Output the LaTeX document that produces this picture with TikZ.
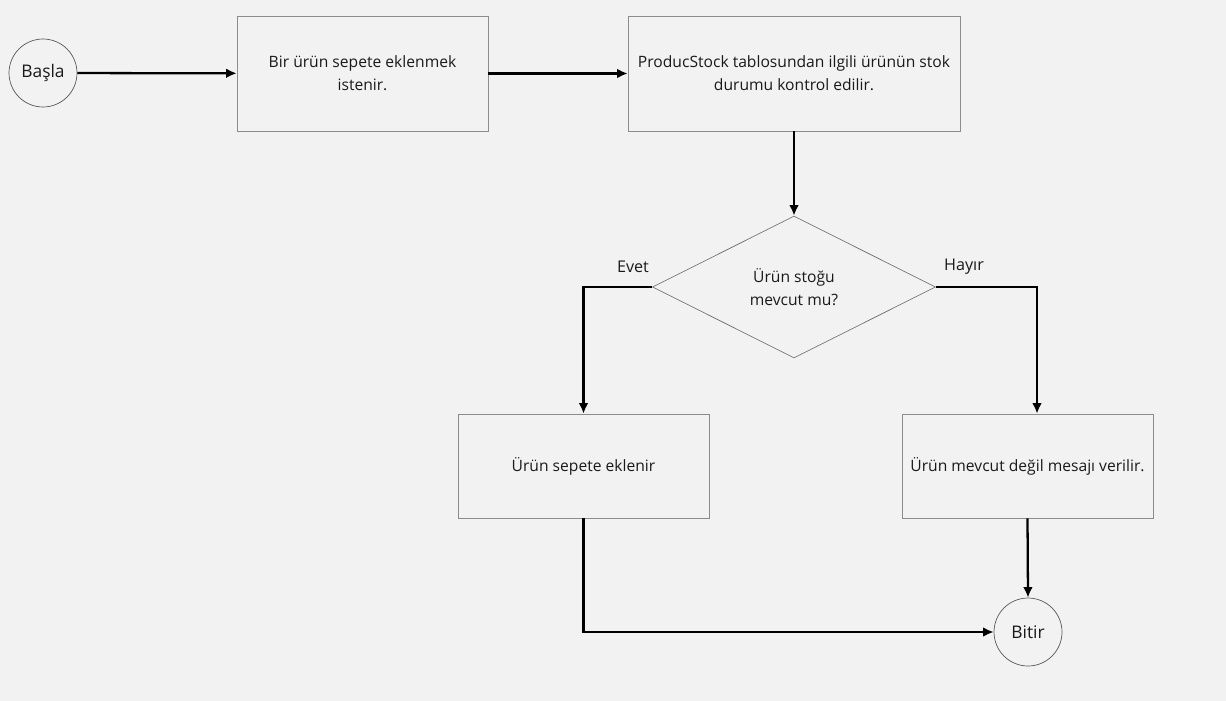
\documentclass[tikz,border=0pt]{standalone}
\usepackage{fontspec}
\setmainfont{Open Sans}
\usetikzlibrary{shapes.geometric,arrows.meta}
\definecolor{zemin}{HTML}{F2F2F2}
\definecolor{kenar}{HTML}{8C8C8C}
\definecolor{yazi}{HTML}{1A1A1A}

\begin{document}
\begin{tikzpicture}[x=0.02cm, y=-0.02cm,
  kutu/.style={draw=kenar, fill=zemin, align=center, inner sep=2pt,
    font=\fontsize{8.9}{13}\selectfont, text=yazi},
  daire/.style={circle, draw=black!65, fill=zemin, minimum size=1.36cm,
    inner sep=0pt, font=\fontsize{9.9}{11}\selectfont, text=yazi},
  karar/.style={diamond, draw=black!55, fill=zemin, minimum width=5.66cm,
    minimum height=2.84cm, inner sep=0pt, align=center,
    font=\fontsize{8.9}{13}\selectfont, text=yazi},
  etiket/.style={font=\fontsize{9.2}{10}\selectfont, text=yazi},
  ok/.style={black, line width=1.3pt, -{Latex[length=6pt,width=5.5pt]}}]

\useasboundingbox (0, 0) rectangle (1226, 700);
\fill [zemin] (-2, -2) rectangle (1228, 702);

\node [daire] (basla) at (43, 73) {Başla};
\node [kutu, minimum width=5.02cm, minimum height=2.3cm] (istek) at (362.5, 73.5)
  {Bir ürün sepete eklenmek\\istenir.};
\node [kutu, minimum width=6.64cm, minimum height=2.3cm] (kontrol) at (794, 73.5)
  {ProducStock tablosundan ilgili ürünün stok\\durumu kontrol edilir.};
\node [karar] (stok) at (794, 287) {Ürün stoğu\\mevcut mu?};
\node [kutu, minimum width=5.02cm, minimum height=2.08cm] (ekle) at (583.5, 466)
  {Ürün sepete eklenir};
\node [kutu, minimum width=5.02cm, minimum height=2.08cm] (mesaj) at (1027.5, 466)
  {Ürün mevcut değil mesajı verilir.};
\node [daire] (bitir) at (1028, 632) {Bitir};

\node [etiket] (evet) at (633, 267) {Evet};
\node [etiket] (hayir) at (964, 267) {Hayır};

\draw [ok] (basla) -- (istek);
\draw [ok] (istek) -- (kontrol);
\draw [ok] (kontrol) -- (stok);
\draw [ok] (stok.west) -| (ekle.north);
\draw [ok] (stok.east) -| ([xshift=0.19cm]mesaj.north);
\draw [ok] (ekle.south) |- (bitir.west);
\draw [ok] (mesaj.south) -- (bitir.north);

\end{tikzpicture}
\end{document}
